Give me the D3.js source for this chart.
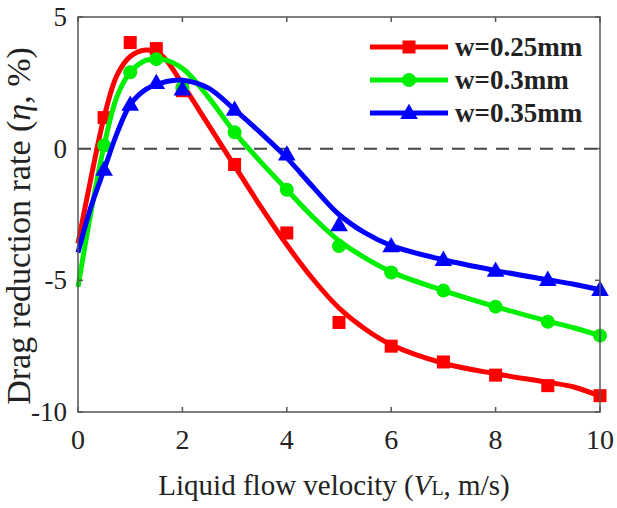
<!DOCTYPE html>
<html>
<head>
<meta charset="utf-8">
<script src="https://cdn.jsdelivr.net/npm/d3@7"></script>
<style>
  html, body { margin: 0; padding: 0; background: #fff; }
  svg text { font-family: "Liberation Serif", "Times New Roman", serif; fill: #222; }
</style>
</head>
<body>
<div id="chart"></div>
<script>
  // measured points
  var xPts = [0.5, 1, 1.5, 2, 3, 4, 5, 6, 7, 8, 9, 10];
  var red = [1.18, 4.03, 3.8, 2.2, -0.6, -3.2, -6.6, -7.5, -8.1, -8.6, -9.0, -9.38];
  var green = [0.12, 2.9, 3.4, 2.3, 0.62, -1.56, -3.7, -4.7, -5.39, -6.0, -6.57, -7.1];
  var blue = [-0.8, 1.67, 2.5, 2.25, 1.48, -0.22, -2.9, -3.7, -4.22, -4.63, -4.98, -5.36];

  // fitted curves
  var xFit = [0, 0.25, 0.5, 0.75, 1, 1.3, 1.6, 2, 2.5, 3, 3.5, 4, 4.5, 5, 5.5, 6, 7, 8, 9, 9.5, 10];
  var redFit = [-3.6, -1.1, 1.2, 2.8, 3.5, 3.75, 3.55, 2.45, 0.9, -0.65, -2.2, -3.65, -4.95, -6.05, -6.85, -7.45, -8.15, -8.55, -8.87, -9.05, -9.4];
  var greenFit = [-5.25, -2.4, 0.12, 2.0, 2.9, 3.35, 3.4, 3.05, 1.95, 0.62, -0.5, -1.56, -2.6, -3.5, -4.15, -4.68, -5.39, -6.0, -6.55, -6.8, -7.1];
  var blueFit = [-3.95, -2.2, -0.8, 0.6, 1.67, 2.25, 2.5, 2.6, 2.3, 1.48, 0.6, -0.35, -1.45, -2.5, -3.2, -3.68, -4.22, -4.63, -4.98, -5.15, -5.36];

  var labels = ['w=0.25mm', 'w=0.3mm', 'w=0.35mm'];
  var xTicks = [0, 2, 4, 6, 8, 10];
  var yTicks = [5, 0, -5, -10];

  var W = 617, H = 508;
  var x = d3.scaleLinear().domain([0, 10]).range([78, 600]);
  var y = d3.scaleLinear().domain([-10, 5]).range([412, 17]);

  var svg = d3.select('#chart').append('svg')
    .attr('width', W)
    .attr('height', H);

  // zero line
  svg.append('line')
    .attr('x1', x(0)).attr('x2', x(10))
    .attr('y1', y(0)).attr('y2', y(0))
    .attr('stroke', '#444')
    .attr('stroke-width', 2)
    .attr('stroke-dasharray', '13,9');

  var series = [
    { name: labels[0], color: '#ff0000', pts: red, fit: redFit, shape: 'square' },
    { name: labels[1], color: '#00ee00', pts: green, fit: greenFit, shape: 'circle' },
    { name: labels[2], color: '#0000ff', pts: blue, fit: blueFit, shape: 'triangle' }
  ];

  var line = d3.line()
    .x(function (d) { return x(d[0]); })
    .y(function (d) { return y(d[1]); })
    .curve(d3.curveCatmullRom);

  function drawMarker(g, shape, cx, cy, color) {
    if (shape === 'square') {
      g.append('rect')
        .attr('x', cx - 6.5).attr('y', cy - 6.5)
        .attr('width', 13).attr('height', 13)
        .attr('fill', color);
    } else if (shape === 'circle') {
      g.append('circle')
        .attr('cx', cx).attr('cy', cy).attr('r', 7)
        .attr('fill', color);
    } else {
      g.append('path')
        .attr('d', d3.symbol().type(d3.symbolTriangle).size(135)())
        .attr('transform', 'translate(' + cx + ',' + (cy + 1) + ')')
        .attr('fill', color);
    }
  }

  series.forEach(function (s) {
    var g = svg.append('g');
    g.append('path')
      .datum(xFit.map(function (v, i) { return [v, s.fit[i]]; }))
      .attr('d', line)
      .attr('fill', 'none')
      .attr('stroke', s.color)
      .attr('stroke-width', 5);
    xPts.forEach(function (v, i) {
      drawMarker(g, s.shape, x(v), y(s.pts[i]), s.color);
    });
  });

  // frame + ticks
  var axisColor = '#555';
  svg.append('rect')
    .attr('x', x(0)).attr('y', y(5))
    .attr('width', x(10) - x(0)).attr('height', y(-10) - y(5))
    .attr('fill', 'none')
    .attr('stroke', axisColor)
    .attr('stroke-width', 1.5);

  xTicks.forEach(function (t) {
    svg.append('line').attr('x1', x(t)).attr('x2', x(t))
      .attr('y1', y(-10)).attr('y2', y(-10) - 5)
      .attr('stroke', axisColor).attr('stroke-width', 1.5);
    svg.append('line').attr('x1', x(t)).attr('x2', x(t))
      .attr('y1', y(5)).attr('y2', y(5) + 5)
      .attr('stroke', axisColor).attr('stroke-width', 1.5);
    svg.append('text')
      .attr('x', x(t)).attr('y', y(-10) + 37)
      .attr('text-anchor', 'middle')
      .attr('font-size', 28)
      .text(t);
  });

  yTicks.forEach(function (t) {
    svg.append('line').attr('x1', x(0)).attr('x2', x(0) + 5)
      .attr('y1', y(t)).attr('y2', y(t))
      .attr('stroke', axisColor).attr('stroke-width', 1.5);
    svg.append('line').attr('x1', x(10)).attr('x2', x(10) - 5)
      .attr('y1', y(t)).attr('y2', y(t))
      .attr('stroke', axisColor).attr('stroke-width', 1.5);
    svg.append('text')
      .attr('x', x(0) - 11).attr('y', y(t) + 9)
      .attr('text-anchor', 'end')
      .attr('font-size', 27)
      .text(t);
  });

  // axis titles
  var xt = svg.append('text')
    .attr('x', 334).attr('y', 495)
    .attr('text-anchor', 'middle')
    .attr('font-size', 29);
  xt.append('tspan').text('Liquid flow velocity (');
  xt.append('tspan').attr('font-style', 'italic').text('V');
  xt.append('tspan').attr('font-size', 20).text('L');
  xt.append('tspan').text(', m/s)');

  var yt = svg.append('text')
    .attr('transform', 'translate(30,226) rotate(-90)')
    .attr('text-anchor', 'middle')
    .attr('font-size', 34);
  yt.append('tspan').text('Drag reduction rate (');
  yt.append('tspan').attr('font-style', 'italic').text('η');
  yt.append('tspan').text(', %)');

  // legend
  var legend = svg.append('g');
  series.forEach(function (s, i) {
    var ly = 47 + i * 33;
    legend.append('line')
      .attr('x1', 370).attr('x2', 448)
      .attr('y1', ly).attr('y2', ly)
      .attr('stroke', s.color).attr('stroke-width', 5);
    drawMarker(legend, s.shape, 409, ly, s.color);
    legend.append('text')
      .attr('x', 455).attr('y', ly + 9)
      .attr('font-size', 27)
      .attr('font-weight', 'bold')
      .text(s.name);
  });
</script>
</body>
</html>
